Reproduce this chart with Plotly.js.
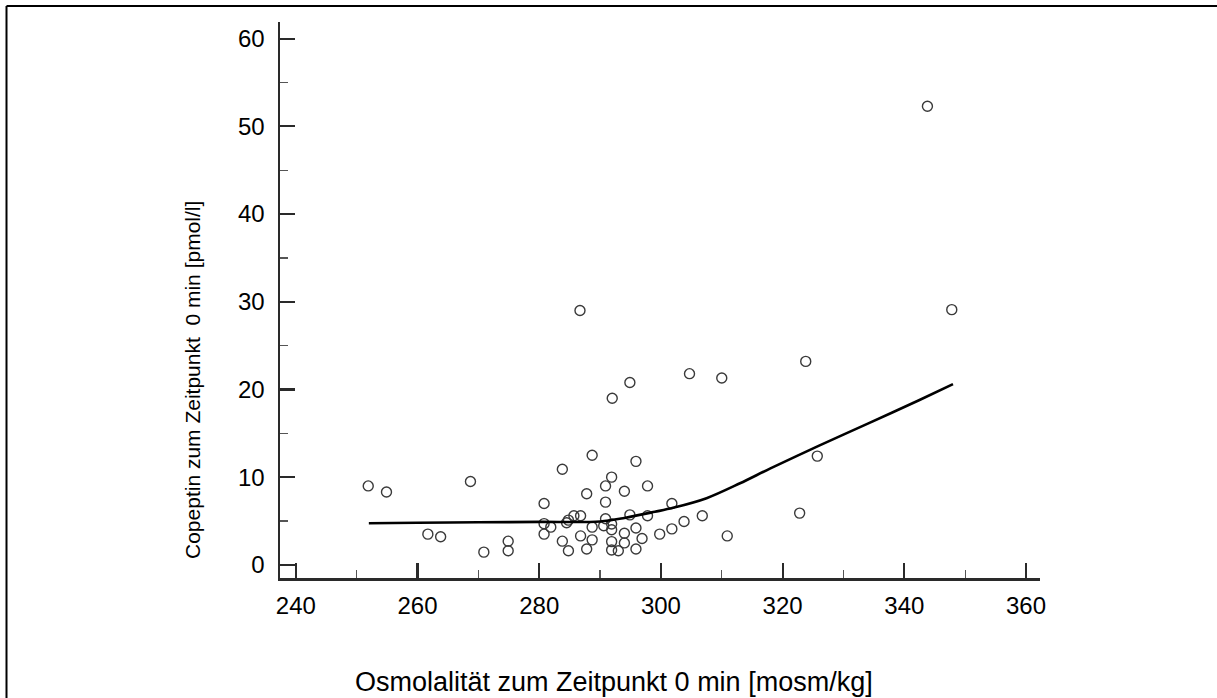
<!DOCTYPE html>
<html>
<head>
<meta charset="utf-8">
<script src="https://cdn.plot.ly/plotly-3.0.1.min.js"></script>
<style>
  html, body { margin: 0; padding: 0; background: #fff; }
  #chart { width: 1217px; height: 698px; }
</style>
</head>
<body>
<div id="chart"></div>
<script>
// Data: Osmolalität (x) vs Copeptin (y), time 0 min
const osmolality = [251.9, 254.9, 261.7, 263.8, 268.7, 270.9, 274.9, 274.9, 280.8, 280.8,
  280.8, 281.9, 283.8, 283.8, 284.8, 284.5, 284.8, 285.7, 286.8, 286.8,
  286.7, 287.8, 287.8, 288.7, 288.7, 288.7, 290.9, 290.9, 290.9, 290.6,
  291.9, 291.9, 291.9, 291.9, 291.9, 292.0, 293.0, 294.0, 294.0, 294.0,
  294.9, 294.9, 295.9, 295.9, 295.9, 296.9, 297.8, 297.8, 299.8, 301.8,
  301.8, 303.8, 304.7, 306.8, 310.0, 310.9, 322.8, 323.8, 325.7, 343.8, 347.8];
const copeptin = [9.0, 8.3, 3.5, 3.2, 9.5, 1.45, 2.7, 1.6, 7.0, 4.7,
  3.5, 4.3, 10.9, 2.7, 5.1, 4.8, 1.6, 5.6, 5.6, 3.3,
  29.0, 8.1, 1.8, 12.5, 4.3, 2.85, 9.0, 7.15, 5.25, 4.45,
  4.65, 4.0, 10.0, 2.65, 1.7, 19.0, 1.6, 8.4, 3.6, 2.5,
  5.7, 20.8, 11.8, 4.2, 1.8, 3.0, 9.0, 5.6, 3.5, 7.0,
  4.1, 4.95, 21.8, 5.6, 21.3, 3.3, 5.9, 23.2, 12.4, 52.3, 29.1];
// Smoothed fit line
const fitX = [252, 260, 270, 280, 290, 294, 299, 302, 307.5, 313, 318, 326, 334, 342.5, 348];
const fitY = [4.75, 4.8, 4.85, 4.9, 4.95, 5.35, 6.05, 6.5, 7.6, 9.3, 11.0, 13.6, 16.1, 18.8, 20.6];

const xTitle = 'Osmolalität zum Zeitpunkt 0 min [mosm/kg]';
const yTitle = 'Copeptin zum Zeitpunkt  0 min [pmol/l]';

// pixel geometry of the plot area
const L = 280, R = 1040, T = 22, B = 578, W = 1217, H = 698;
const px = p => (p - L) / (R - L);
const py = p => (B - p) / (B - T);

const FONT = 'Liberation Sans, Arial, sans-serif';

const traces = [
  {
    x: osmolality, y: copeptin, type: 'scatter', mode: 'markers',
    marker: { symbol: 'circle-open', size: 10, color: '#3a3a3a', line: { width: 1.4, color: '#3a3a3a' } },
    hoverinfo: 'x+y', showlegend: false
  },
  {
    x: fitX, y: fitY, type: 'scatter', mode: 'lines',
    line: { color: '#000', width: 2.6, shape: 'spline', smoothing: 0.9 },
    hoverinfo: 'skip', showlegend: false
  }
];

const axisCommon = {
  showgrid: false, zeroline: false, showline: true, linecolor: '#2a2a2a', linewidth: 2.5,
  ticks: 'inside', ticklen: 15, tickwidth: 2.2, tickcolor: '#2a2a2a',
  tickfont: { family: FONT, size: 24, color: '#000' },
  minor: { ticks: 'inside', ticklen: 8, tickwidth: 1.2, tickcolor: '#555', showgrid: false }
};

const layout = {
  width: W, height: H,
  margin: { l: L, r: W - R, t: T, b: H - B, pad: 0 },
  paper_bgcolor: '#fff', plot_bgcolor: '#fff',
  xaxis: Object.assign({}, axisCommon, {
    range: [237.4, 362.3], tickmode: 'linear', tick0: 240, dtick: 20, ticklabelstandoff: 5,
    minor: Object.assign({}, axisCommon.minor, { dtick: 10, tick0: 240 })
  }),
  yaxis: Object.assign({}, axisCommon, {
    range: [-1.5, 61.9], tickmode: 'linear', tick0: 0, dtick: 10, ticklabelstandoff: 8,
    minor: Object.assign({}, axisCommon.minor, { dtick: 5, tick0: 0 })
  }),
  annotations: [
    { text: xTitle, xref: 'paper', yref: 'paper', x: px(614), y: py(682),
      xanchor: 'center', yanchor: 'middle', showarrow: false,
      font: { family: FONT, size: 27, color: '#000' } },
    { text: yTitle, xref: 'paper', yref: 'paper', x: px(192), y: py(380),
      xanchor: 'center', yanchor: 'middle', showarrow: false, textangle: -90,
      font: { family: FONT, size: 21, color: '#000' } }
  ],
  shapes: [
    { type: 'line', xref: 'paper', yref: 'paper', x0: px(6.5), x1: px(W), y0: py(6), y1: py(6),
      line: { color: '#000', width: 2 } },
    { type: 'line', xref: 'paper', yref: 'paper', x0: px(6.5), x1: px(6.5), y0: py(6), y1: py(H),
      line: { color: '#000', width: 2 } }
  ]
};

Plotly.newPlot('chart', traces, layout, { displayModeBar: false, staticPlot: true });
</script>
</body>
</html>
